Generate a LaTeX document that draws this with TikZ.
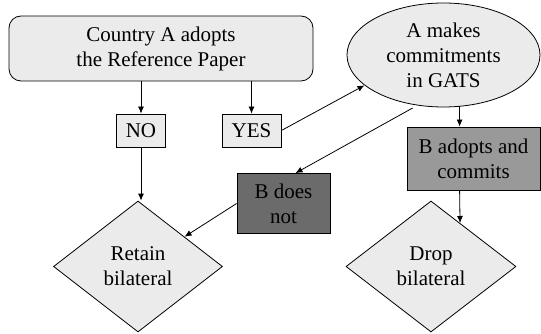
\documentclass[tikz,border=0pt]{standalone}
\usepackage{fontspec}
\setmainfont{Liberation Serif}
\usetikzlibrary{shapes.geometric,arrows.meta,calc}
\definecolor{lightfill}{HTML}{EBEBEB}
\definecolor{midfill}{HTML}{999999}
\definecolor{darkfill}{HTML}{6B6B6B}
\begin{document}
\begin{tikzpicture}[x=1pt,y=-1pt,
  every node/.style={font=\fontsize{21}{25}\selectfont, align=center, inner sep=0pt, line width=0.8pt},
  roundbox/.style={draw, fill=lightfill, rounded corners=12pt},
  answer/.style={draw, fill=lightfill},
  oval/.style={draw, fill=lightfill, ellipse},
  decision/.style={draw, fill=lightfill, diamond},
  conn/.style={-{Latex[length=7pt,width=6pt]}, line width=0.8pt}]
\useasboundingbox (0,0) rectangle (541,334);
\node[roundbox, minimum width=304pt, minimum height=65pt] (top) at (161,48.5) {Country A adopts\\the Reference Paper};
\node[oval, minimum width=193pt, minimum height=104pt] (E) at (443.5,55) {A makes\\commitments\\in GATS};
\node[answer, minimum width=49pt, minimum height=33pt] (NO) at (141,130.5) {NO};
\node[answer, minimum width=59pt, minimum height=33pt] (YES) at (251.5,130.5) {YES};
\node[draw, fill=midfill, minimum width=133pt, minimum height=63pt] (Badopt) at (473.5,158.5) {B adopts and\\commits};
\node[draw, fill=darkfill, minimum width=93pt, minimum height=60pt] (Bnot) at (283.5,203.5) {B does\\not};
\node[decision, minimum width=169pt, minimum height=131pt] (Retain) at (138,266.5) {Retain\\bilateral};
\node[decision, minimum width=170pt, minimum height=131pt] (Drop) at (431,266.5) {Drop\\bilateral};
\coordinate (eb) at ($(Badopt.north west)+(53,0)$);
\coordinate (bt) at ($(Bnot.north)+(12,0)$);
\coordinate (es) at ($(E.240)+(-2,3)$);
\draw[conn] (NO.north |- top.south) -- (NO.north);
\draw[conn] (YES.north |- top.south) -- (YES.north);
\draw[conn] (YES.east) -- (E.201);
\draw[conn] (es) -- (bt);
\draw[conn] (E.south -| eb) ++(0,-1.5) -- (eb);
\draw[conn] (Badopt.south -| eb) -- ($(Drop.north)!0.34!(Drop.east)$);
\draw[conn] (NO.south) -- (NO.south |- Retain.north);
\draw[conn] (Bnot.west) -- (Retain);
\end{tikzpicture}
\end{document}
